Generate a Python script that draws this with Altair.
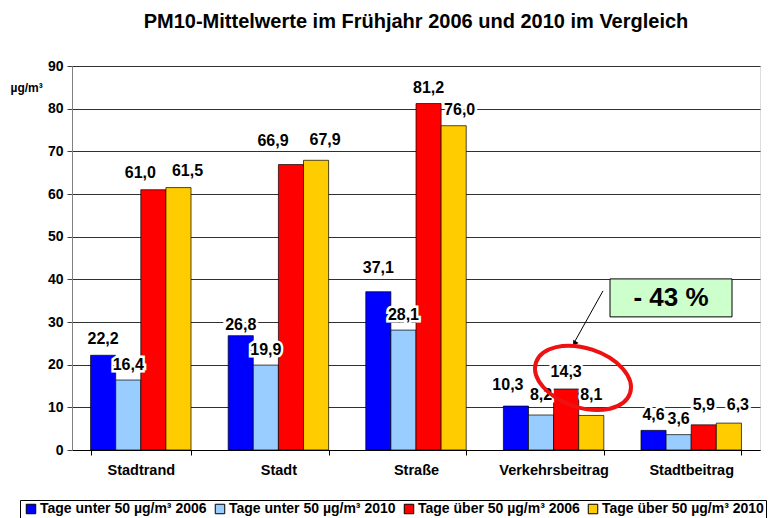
import altair as alt
import pandas as pd

categories = ["Stadtrand", "Stadt", "Straße", "Verkehrsbeitrag", "Stadtbeitrag"]
series = ["Tage unter 50 µg/m³ 2006", "Tage unter 50 µg/m³ 2010",
          "Tage über 50 µg/m³ 2006", "Tage über 50 µg/m³ 2010"]
colors = ["#0000FF", "#99CCFF", "#FF0000", "#FFCC00"]
unter_2006 = [22.2, 26.8, 37.1, 10.3, 4.6]
unter_2010 = [16.4, 19.9, 28.1, 8.2, 3.6]
ueber_2006 = [61.0, 66.9, 81.2, 14.3, 5.9]
ueber_2010 = [61.5, 67.9, 76.0, 8.1, 6.3]
y_ticks = [0, 10, 20, 30, 40, 50, 60, 70, 80, 90]

# label nudges (pixels) as placed in the original, per series x category
label_dx = [[0, 0, 0, -8, 0],
            [0, 0, 0, 0, 0],
            [-13, -18, 0, 0, 0],
            [9, 9, 6, 0, 9]]
label_dy = [[0, 5, -8, -5, 1],
            [1, 1, 1, -4, 0],
            [-1, -8, 0, -1, -4],
            [-1, -4, 0, -4, -2]]

FONT = "Liberation Sans"

rows = []
for s, vals in zip(series, [unter_2006, unter_2010, ueber_2006, ueber_2010]):
    for c, v in zip(categories, vals):
        rows.append({"cat": c, "series": s, "value": v,
                     "label": f"{v:.1f}".replace(".", ",")})
df = pd.DataFrame(rows)

W, H = 688, 384

x = alt.X("cat:N", sort=categories, title=None,
          scale=alt.Scale(paddingInner=0.27, paddingOuter=0.135),
          axis=alt.Axis(labelAngle=0, labelFont=FONT, labelFontWeight="bold",
                        labelFontSize=14.5, labelColor="black", tickBand="extent",
                        tickSize=5, tickColor="black", domainColor="black",
                        labelPadding=8))
y = alt.Y("value:Q", scale=alt.Scale(domain=[0, 90], nice=False),
          axis=alt.Axis(values=y_ticks, title="µg/m³", titleAngle=0, titleAlign="left",
                        titleBaseline="middle", titleX=-62, titleY=21,
                        titleFont=FONT, titleFontSize=12, titleFontWeight="bold",
                        labelFont=FONT, labelFontWeight="bold", labelFontSize=14,
                        labelColor="black", tickSize=5, tickColor="#404040",
                        domainColor="#808080", gridColor="#303030", labelPadding=4))
color = alt.Color("series:N", scale=alt.Scale(domain=series, range=colors),
                  legend=alt.Legend(title=None, orient="none", direction="horizontal",
                                    legendX=-52, legendY=434, strokeColor="black",
                                    padding=2, symbolType="square", symbolSize=90,
                                    symbolStrokeColor="black", symbolStrokeWidth=1,
                                    labelFont=FONT, labelFontWeight="bold",
                                    labelFontSize=14, labelColor="black",
                                    labelLimit=300,
                                    columnPadding=4, symbolOffset=2, labelOffset=2,
                                    fillColor="white"))
xoff = alt.XOffset("series:N", sort=series, scale=alt.Scale(paddingInner=0))

bars = alt.Chart(df).mark_bar(stroke="black", strokeWidth=0.7).encode(
    x=x, y=y, color=color, xOffset=xoff)

label_layers = []
for si, s in enumerate(series):
    for ci, c in enumerate(categories):
        sub = alt.Chart(df).transform_filter(
            (alt.datum.series == s) & (alt.datum.cat == c))
        enc = dict(x=alt.X("cat:N", sort=categories), y="value:Q",
                   xOffset=xoff, text="label:N")
        common = dict(dx=label_dx[si][ci], dy=-11 + label_dy[si][ci], font=FONT,
                      fontWeight="bold", fontSize=16, baseline="alphabetic")
        label_layers.append(sub.mark_text(color="white", stroke="white",
                                          strokeWidth=5, **common).encode(**enc))
        label_layers.append(sub.mark_text(color="black", **common).encode(**enc))

# annotation: green box
box_df = pd.DataFrame({"y1": [40.1], "y2": [31.2], "ym": [35.6], "t": ["- 43 %"]})
box = alt.Chart(box_df).mark_rect(fill="#CCFFCC", stroke="black", strokeWidth=1).encode(
    x=alt.value(610 - 72), x2=alt.value(732 - 72), y="y1:Q", y2="y2:Q")
box_text = alt.Chart(box_df).mark_text(font=FONT, fontWeight="bold", fontSize=26,
                                       color="black", baseline="middle").encode(
    x=alt.value(671 - 72), y="ym:Q", text="t:N")

# arrow
arr_df = pd.DataFrame({"y1": [37.3], "y2": [25.1]})
arrow_line = alt.Chart(arr_df).mark_rule(color="black", strokeWidth=1).encode(
    x=alt.value(603 - 72), x2=alt.value(574 - 72), y="y1:Q", y2="y2:Q")
arrow_head = alt.Chart(arr_df).mark_point(shape="triangle", filled=True, color="black",
                                          size=40, angle=210, opacity=1).encode(
    x=alt.value(575 - 72), y="y2:Q")

# ellipse
ell_df = pd.DataFrame({"yc": [16.9]})
ellipse = alt.Chart(ell_df).mark_point(
    shape="M-1,0A1,0.6,0,1,1,1,0A1,0.6,0,1,1,-1,0Z", filled=False, stroke="#EE1111",
    strokeWidth=4, size=9800, angle=18, opacity=1).encode(
    x=alt.value(583 - 72), y="yc:Q")

chart = alt.layer(bars, *label_layers, box, box_text, arrow_line, arrow_head,
                  ellipse).properties(
    width=W, height=H,
    title=alt.Title("PM10-Mittelwerte im Frühjahr 2006 und 2010 im Vergleich",
                    font=FONT, fontSize=20, fontWeight="bold", color="black",
                    anchor="middle", offset=27),
    autosize=alt.AutoSizeParams(type="none"),
    padding={"left": 64, "top": 58, "right": 13, "bottom": 80},
).configure_view(stroke="#808080").configure(background="white")

chart.save("out.html", embed_options={"renderer": "svg", "actions": False})
